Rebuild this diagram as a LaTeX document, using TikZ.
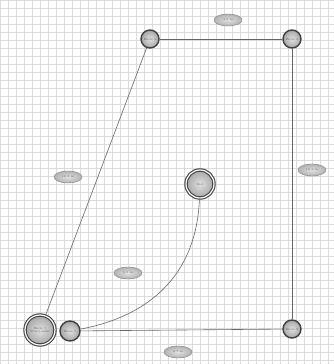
\documentclass[tikz,border=0pt]{standalone}
\usetikzlibrary{shapes.geometric}
\begin{document}
\begin{tikzpicture}[x=1pt,y=-1pt,
  stn/.style={circle,draw=black!75,line width=1.4pt,inner sep=0pt,minimum size=18pt,
    inner color=black!12,outer color=black!35,font=\fontsize{3}{3.5}\selectfont,text=black!60},
  dstn/.style={stn,double=white,double distance=1.2pt,line width=1.1pt},
  lbl/.style={ellipse,draw=black!50,inner color=black!12,outer color=black!30,inner sep=0pt,minimum width=28pt,minimum height=12pt,
    font=\fontsize{3}{3.5}\selectfont,text=black!60},
  link/.style={draw=black!60,line width=0.6pt}]
\useasboundingbox (0,0) rectangle (334,364);
\fill[white] (0,0) rectangle (334,364);
\draw[black!14,line width=0.35pt,step=8pt] (0,0) grid (334,364);
\node[stn] (A) at (150,39) {Ende 4};
\node[stn] (B) at (292,39) {Ende 3};
\node[stn] (C) at (292,329) {Ende 2};
\node[stn,minimum size=20pt] (D) at (70,331) {Ende 1};
\node[dstn,minimum size=30pt,align=center] (E) at (40,330) {Ende 1\\Startpunkt};
\node[dstn,minimum size=28pt] (F) at (200,184) {Ziel};
\draw[link] (A) -- (B);
\draw[link] (B) -- (C);
\draw[link] (D) -- (C);
\draw[link] (E) -- (A);
\draw[link] (F) .. controls (196,290) and (130,320) .. (D);
\node[lbl] (l1) at (228,20) {4.5 m};
\node[lbl] (l2) at (68,177) {16.2 m};
\node[lbl] (l3) at (312,170) {16.4 m};
\node[lbl] (l4) at (128,273) {6.0 m};
\node[lbl] (l5) at (178,352) {8.7 m};
\end{tikzpicture}
\end{document}
